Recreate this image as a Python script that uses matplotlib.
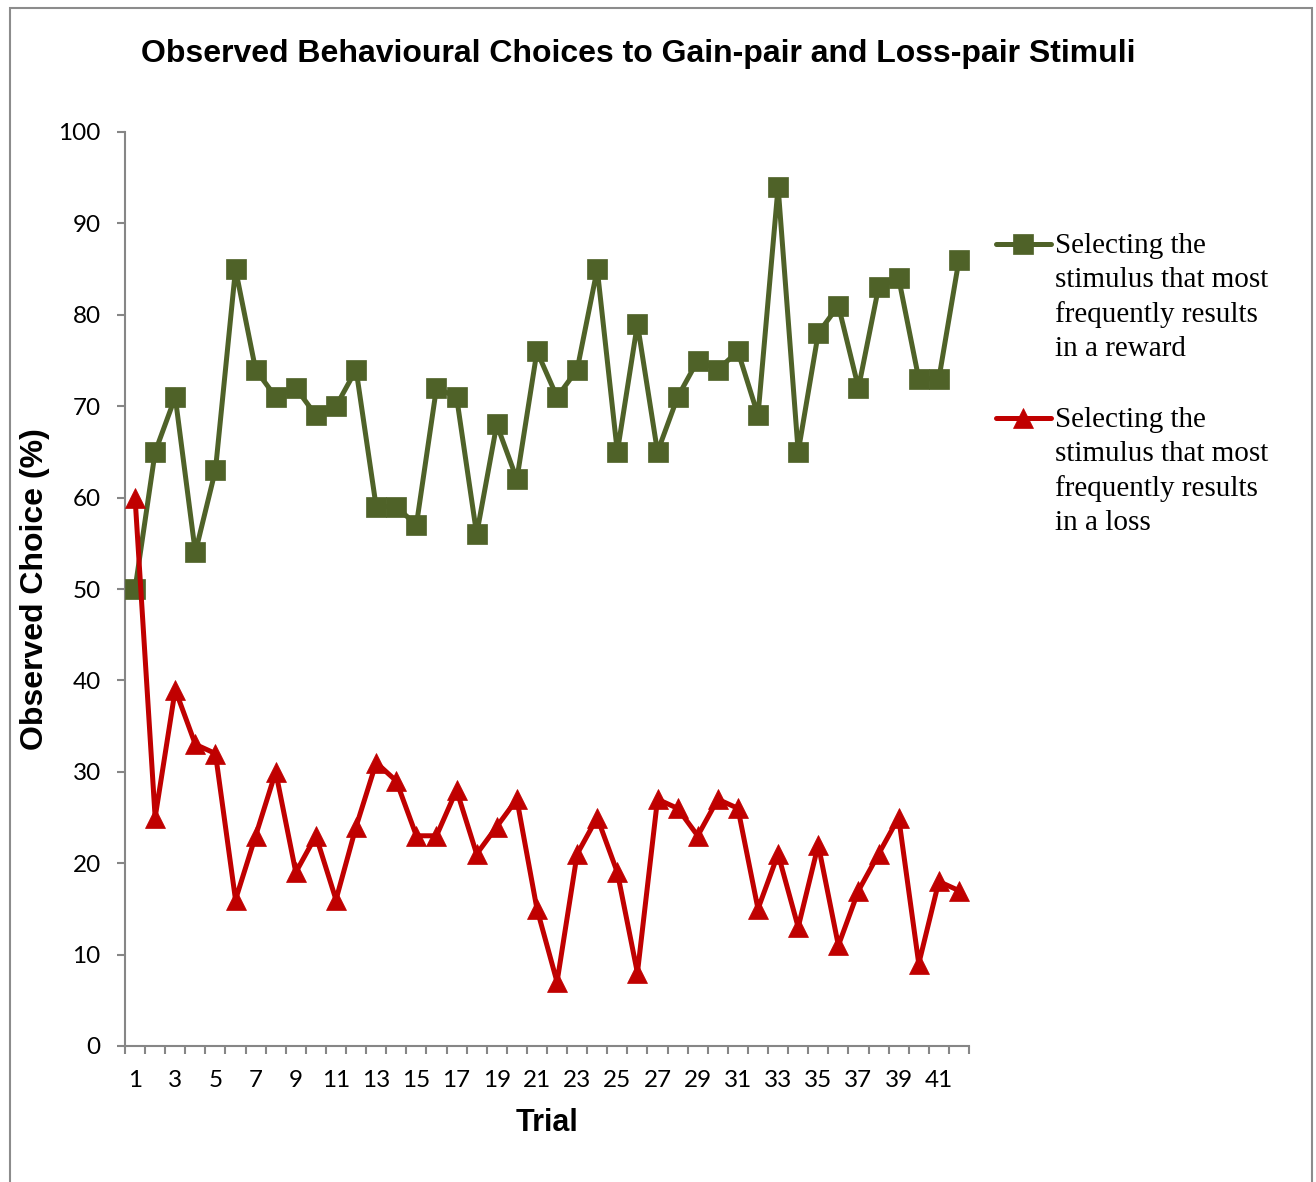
import matplotlib
matplotlib.use("Agg")
import matplotlib.pyplot as plt
from matplotlib.lines import Line2D
from matplotlib.patches import Rectangle

# Trial numbers and percentage of choices per trial
trials = list(range(1, 43))
gain_pair = [50, 65, 71, 54, 63, 85, 74, 71, 72, 69, 70, 74, 59, 59, 57, 72, 71, 56, 68, 62, 76,
             71, 74, 85, 65, 79, 65, 71, 75, 74, 76, 69, 94, 65, 78, 81, 72, 83, 84, 73, 73, 86]
loss_pair = [60, 25, 39, 33, 32, 16, 23, 30, 19, 23, 16, 24, 31, 29, 23, 23, 28, 21, 24, 27, 15,
             7, 21, 25, 19, 8, 27, 26, 23, 27, 26, 15, 21, 13, 22, 11, 17, 21, 25, 9, 18, 17]
x_tick_labels = [str(t) for t in trials if t % 2 == 1]
y_ticks = list(range(0, 101, 10))

series = [
    dict(values=gain_pair, color="#4F6228", marker="s",
         label="Selecting the\nstimulus that most\nfrequently results\nin a reward"),
    dict(values=loss_pair, color="#C00000", marker="^",
         label="Selecting the\nstimulus that most\nfrequently results\nin a loss"),
]

W, H = 1316, 1182
fig = plt.figure(figsize=(W / 100, H / 100), dpi=100)
fig.patch.set_facecolor("white")

# Outer chart border
fig.add_artist(Rectangle((9.5 / W, -0.02), 1302 / W, 1 - 7.5 / H + 0.02,
                         transform=fig.transFigure, fill=False,
                         edgecolor="#8C8C8C", linewidth=1.5))

ax_l, ax_r, ax_t, ax_b = 125, 969, 132, 1046
ax = fig.add_axes([ax_l / W, 1 - ax_b / H, (ax_r - ax_l) / W, (ax_b - ax_t) / H])

for s in series:
    ax.plot(trials, s["values"], color=s["color"], linewidth=3.6, marker=s["marker"],
            markersize=14.5, markeredgewidth=0.5, markeredgecolor=s["color"],
            markerfacecolor=s["color"], clip_on=False, zorder=3)

ax.set_xlim(0.5, 42.5)
ax.set_ylim(0, 100)

axis_gray = "#868686"
for side in ("top", "right"):
    ax.spines[side].set_visible(False)
for side in ("left", "bottom"):
    ax.spines[side].set_color(axis_gray)
    ax.spines[side].set_linewidth(1.5)

tick_font = dict(family="Lato", size=17.5)
ax.set_yticks(y_ticks)
ax.set_yticklabels([str(v) for v in y_ticks], **tick_font)
ax.tick_params(axis="y", direction="out", length=5.5, width=1.5, color=axis_gray, pad=12)

# category labels at odd trials, tick marks between categories
ax.set_xticks([t for t in trials if t % 2 == 1])
ax.set_xticklabels(x_tick_labels, **tick_font)
ax.tick_params(axis="x", which="major", length=0, pad=17)
ax.set_xticks([t + 0.5 for t in [0] + trials], minor=True)
ax.tick_params(axis="x", which="minor", direction="out", length=5.5, width=1.5, color=axis_gray)

bold = dict(family="Liberation Sans", weight="bold")
fig.text(638 / W, 1 - 54 / H, "Observed Behavioural Choices to Gain-pair and Loss-pair Stimuli",
         ha="center", va="center", size=23, **bold)
fig.text(35 / W, 1 - 589 / H, "Observed Choice (%)", rotation=90,
         ha="center", va="center", size=23, **bold)
fig.text(547 / W, 1 - 1123 / H, "Trial", ha="center", va="center", size=22, **bold)

# Legend: handle aligned with the first line of each wrapped label
legend_rows = [244, 418]
for s, y in zip(series, legend_rows):
    yf = 1 - y / H
    fig.add_artist(Line2D([996 / W, 1051 / W], [yf, yf], transform=fig.transFigure,
                          color=s["color"], linewidth=3.6, solid_capstyle="round"))
    fig.add_artist(Line2D([1023 / W], [yf], transform=fig.transFigure, marker=s["marker"],
                          markersize=14.5, color=s["color"], markeredgewidth=0.5))
    fig.text(1055 / W, yf + 11 / H, s["label"], ha="left", va="top",
             family="Liberation Serif", size=21, linespacing=1.4)

fig.savefig("out.png", dpi=100)
